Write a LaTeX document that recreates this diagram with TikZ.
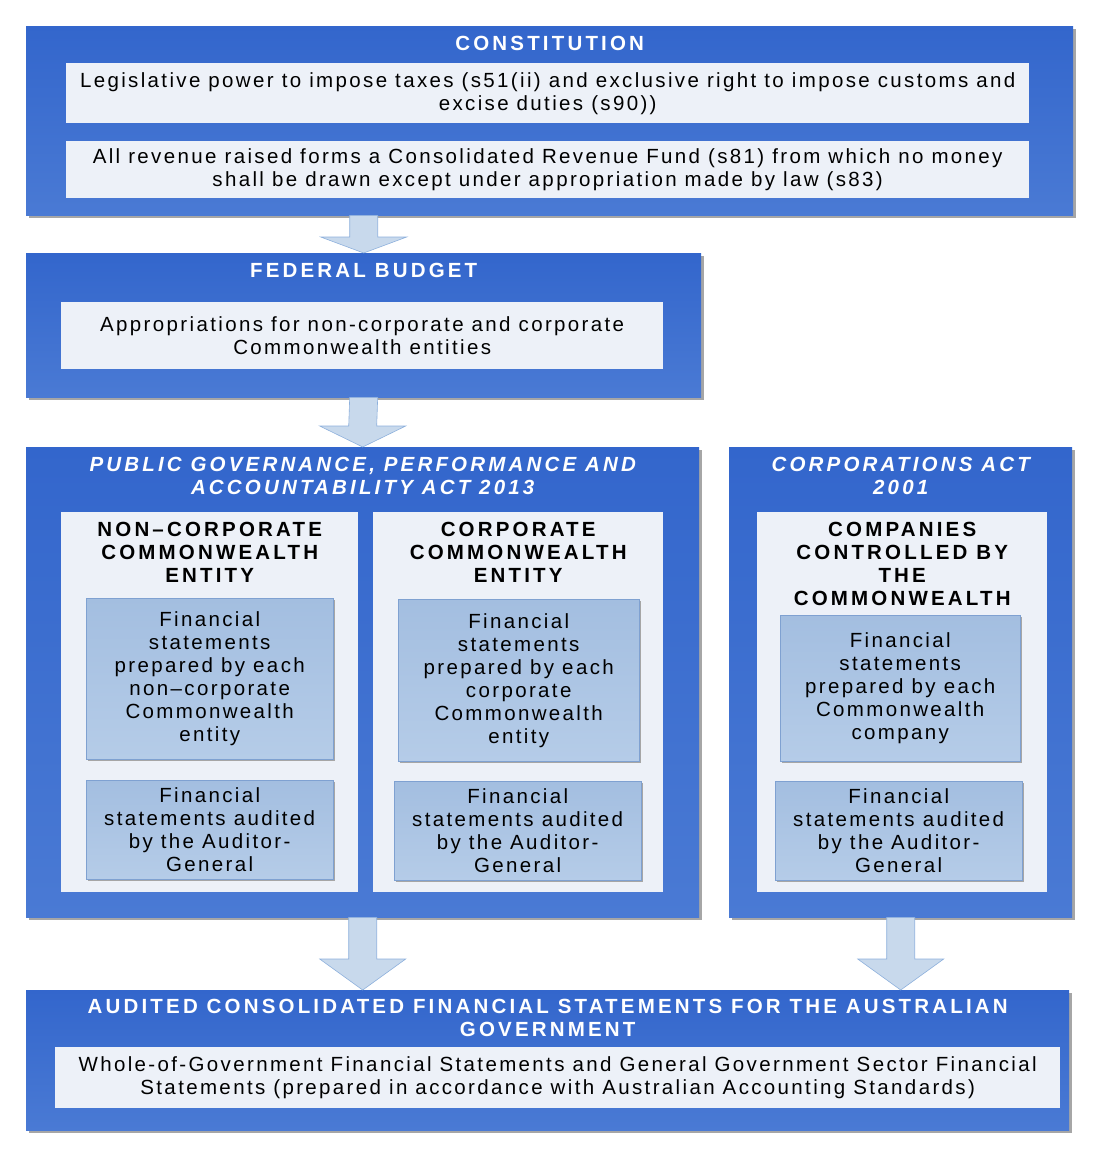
\documentclass[tikz,border=0pt]{standalone}
\usepackage{fontspec}
\setmainfont{Liberation Sans}[LetterSpace=11.5, BoldFeatures={LetterSpace=15.5}, BoldItalicFeatures={LetterSpace=15.5}]
\usetikzlibrary{positioning,shadows,calc}

\definecolor{outertop}{HTML}{3366CC}
\definecolor{outerbot}{HTML}{4A7AD4}
\definecolor{innerfill}{HTML}{EDF1F8}
\definecolor{subtop}{HTML}{A3BEE0}
\definecolor{subbot}{HTML}{B5CCE8}
\definecolor{subline}{HTML}{7FA1D1}
\definecolor{arrowfill}{HTML}{C8D9EC}
\definecolor{arrowline}{HTML}{8DB0DC}
\definecolor{shadowgray}{HTML}{A6A6A6}

\newcommand{\blockarrow}[3]{%
  \draw[barrow] ($(#1)+(-14,0)$) -- ($(#1)+(14,0)$) -- ($(#2)+(14,-#3)$) -- ($(#2)+(43,-#3)$)
    -- (#2) -- ($(#2)+(-43,-#3)$) -- ($(#2)+(-14,-#3)$) -- cycle;}

\begin{document}
\begin{tikzpicture}[x=1pt, y=-1pt,
    txt/.style = {font=\fontsize{20.5}{23}\selectfont, align=center},
    outer/.style = {anchor=north west, top color=outertop, bottom color=outerbot, draw=none,
        drop shadow={shadow xshift=3pt, shadow yshift=-3pt, fill=shadowgray, opacity=1}},
    inner/.style = {txt, anchor=north west, fill=innerfill, inner sep=0pt},
    sub/.style = {txt, anchor=north west, top color=subtop, bottom color=subbot, draw=subline, inner sep=0pt,
        drop shadow={shadow xshift=2pt, shadow yshift=-2pt, fill=shadowgray, opacity=1}},
    title/.style = {txt, text=white, font=\fontsize{20.5}{23}\selectfont\bfseries, inner sep=0pt},
    ititle/.style = {title, font=\fontsize{20.5}{23}\selectfont\bfseries\itshape},
    coltitle/.style = {txt, font=\fontsize{20.5}{23}\selectfont\bfseries, inner sep=0pt},
    barrow/.style = {fill=arrowfill, draw=arrowline, line width=0.6pt}]
    \useasboundingbox (0,0) rectangle (1104,1159);

    \node[outer, minimum width=1047, minimum height=189] (cons) at (26,26) {};
    \node[title, below=10pt of cons.north] (constitle) {CONSTITUTION};
    \node[inner, minimum width=963, minimum height=60] (tax) at (66,63)
        {Legislative power to impose taxes (s51(ii) and exclusive right to impose customs and\\excise duties (s90))};
    \node[inner, minimum width=963, minimum height=57] (crf) at (66,141)
        {All revenue raised forms a Consolidated Revenue Fund (s81) from which no money\\shall be drawn except under appropriation made by law (s83)};

    \node[outer, minimum width=675, minimum height=144] (budget) at (26,253) {};
    \node[title, below=10pt of budget.north] (budgettitle) {FEDERAL BUDGET};
    \node[inner, minimum width=602, minimum height=67] (approp) at (61,302)
        {Appropriations for non-corporate and corporate\\Commonwealth entities};

    \node[outer, minimum width=673, minimum height=470] (pgpa) at (26,447) {};
    \node[ititle, below=10pt of pgpa.north] (pgpatitle) {PUBLIC GOVERNANCE, PERFORMANCE AND\\ACCOUNTABILITY ACT 2013};
    \node[inner, minimum width=297, minimum height=380] (ncol) at (61,512) {};
    \node[coltitle, below=10pt of ncol.north] (ncoltitle) {NON--CORPORATE\\COMMONWEALTH\\ENTITY};
    \node[sub, minimum width=247, minimum height=161] (nprep) at (86,598)
        {Financial\\statements\\prepared by each\\non--corporate\\Commonwealth\\entity};
    \node[sub, minimum width=247, minimum height=99] (naud) at (86,780)
        {Financial\\statements audited\\by the Auditor-\\General};
    \node[inner, minimum width=290, minimum height=380] (ccol) at (373,512) {};
    \node[coltitle, below=10pt of ccol.north] (ccoltitle) {CORPORATE\\COMMONWEALTH\\ENTITY};
    \node[sub, minimum width=241, minimum height=162] (cprep) at (398,599)
        {Financial\\statements\\prepared by each\\corporate\\Commonwealth\\entity};
    \node[sub, minimum width=247, minimum height=99] (caud) at (394,781)
        {Financial\\statements audited\\by the Auditor-\\General};

    \node[outer, minimum width=343, minimum height=470] (corp) at (729,447) {};
    \node[ititle, below=10pt of corp.north] (corptitle) {CORPORATIONS ACT\\2001};
    \node[inner, minimum width=290, minimum height=380] (kcol) at (757,512) {};
    \node[coltitle, below=10pt of kcol.north] (kcoltitle) {COMPANIES\\CONTROLLED BY\\THE\\COMMONWEALTH};
    \node[sub, minimum width=240, minimum height=146] (kprep) at (780,615)
        {Financial\\statements\\prepared by each\\Commonwealth\\company};
    \node[sub, minimum width=247, minimum height=99] (kaud) at (775,781)
        {Financial\\statements audited\\by the Auditor-\\General};

    \node[outer, minimum width=1043, minimum height=140] (final) at (26,990) {};
    \node[title, below=9pt of final.north] (finaltitle) {AUDITED CONSOLIDATED FINANCIAL STATEMENTS FOR THE AUSTRALIAN\\GOVERNMENT};
    \node[inner, minimum width=1005, minimum height=61] (wog) at (55,1047)
        {Whole-of-Government Financial Statements and General Government Sector Financial\\Statements (prepared in accordance with Australian Accounting Standards)};

    \blockarrow{cons.south -| budget.north}{budget.north}{16}
    \blockarrow{budget.south}{pgpa.north}{21}
    \blockarrow{pgpa.south}{final.north -| pgpa.south}{31}
    \blockarrow{corp.south}{final.north -| corp.south}{31}
\end{tikzpicture}
\end{document}
